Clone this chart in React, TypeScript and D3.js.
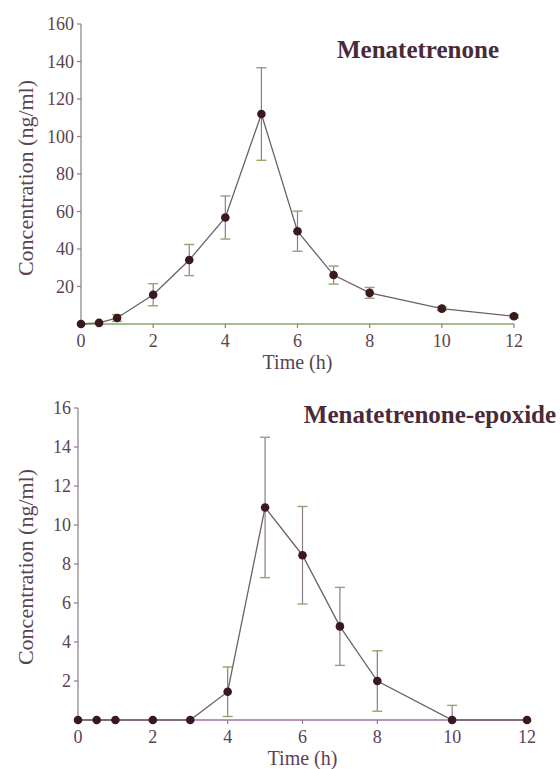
import React from "react";
import * as d3 from "d3";

const times = [0, 0.5, 1, 2, 3, 4, 5, 6, 7, 8, 10, 12];
const mk4Mean = [0, 0.6, 3.2, 15.6, 34.1, 56.8, 112, 49.5, 26.1, 16.6, 8.2, 4.1];
const mk4Sd = [0, 0, 1.8, 5.9, 8.3, 11.5, 24.7, 10.7, 4.8, 2.9, 1.0, 0.8];
const epoMean = [0, 0, 0, 0, 0, 1.45, 10.9, 8.45, 4.8, 2.0, 0, 0];
const epoSd = [0, 0, 0, 0, 0, 1.27, 3.6, 2.5, 2.0, 1.55, 0.75, 0];
const xTicks = [0, 2, 4, 6, 8, 10, 12];
const mk4YTicks = [20, 40, 60, 80, 100, 120, 140, 160];
const epoYTicks = [2, 4, 6, 8, 10, 12, 14, 16];
const mk4Title = "Menatetrenone";
const epoTitle = "Menatetrenone-epoxide";
const yLabel = "Concentration (ng/ml)";
const xLabel = "Time (h)";

const FONT = "'Liberation Serif', 'Times New Roman', serif";
const TEXT = "#5a4352";
const AXIS = "#8a7c8a";
const LINE = "#6e5f6c";
const MARK = "#3a1820";
const CAP = "#8fa866";

type PanelProps = {
  mean: number[];
  sd: number[];
  yMax: number;
  yTicks: number[];
  x0: number;
  x1: number;
  yTop: number;
  yBot: number;
  title: string;
  titleX: number;
  titleY: number;
  xAxisColor: string;
  yLabelY: number;
};

function Panel(p: PanelProps) {
  const x = d3.scaleLinear().domain([0, 12]).range([p.x0, p.x1]);
  const y = d3.scaleLinear().domain([0, p.yMax]).range([p.yBot, p.yTop]);
  const line = d3
    .line<number>()
    .x((_, i) => x(times[i]))
    .y((d) => y(d));
  return (
    <g>
      <line x1={p.x0} x2={p.x0} y1={p.yTop} y2={p.yBot} stroke={AXIS} strokeWidth={1.2} />
      {p.yTicks.map((t) => (
        <g key={"y" + t}>
          <line x1={p.x0 - 4} x2={p.x0} y1={y(t)} y2={y(t)} stroke={AXIS} strokeWidth={1.2} />
          <text
            x={p.x0 - 7}
            y={y(t)}
            dy="0.35em"
            textAnchor="end"
            fontFamily={FONT}
            fontSize={18}
            fill={TEXT}
          >
            {t}
          </text>
        </g>
      ))}
      <line x1={p.x0} x2={p.x1} y1={p.yBot} y2={p.yBot} stroke={p.xAxisColor} strokeWidth={1.4} />
      {xTicks.map((t) => (
        <g key={"x" + t}>
          <line x1={x(t)} x2={x(t)} y1={p.yBot} y2={p.yBot + 4} stroke={AXIS} strokeWidth={1.2} />
          <text
            x={x(t)}
            y={p.yBot + 23}
            textAnchor="middle"
            fontFamily={FONT}
            fontSize={18}
            fill={TEXT}
          >
            {t}
          </text>
        </g>
      ))}
      <text
        x={x(6)}
        y={p.yBot + 45}
        textAnchor="middle"
        fontFamily={FONT}
        fontSize={20}
        fill={TEXT}
      >
        {xLabel}
      </text>
      <text
        transform={`translate(25,${p.yLabelY}) rotate(-90)`}
        dy="0.35em"
        textAnchor="middle"
        fontFamily={FONT}
        fontSize={22}
        fill={TEXT}
      >
        {yLabel}
      </text>
      <text
        x={p.titleX}
        y={p.titleY}
        textAnchor="middle"
        fontFamily={FONT}
        fontWeight="bold"
        fontSize={25}
        fill="#4a2a38"
      >
        {p.title}
      </text>
      {p.mean.map((m, i) =>
        p.sd[i] > 0 ? (
          <g key={"e" + i}>
            <line
              x1={x(times[i])}
              x2={x(times[i])}
              y1={y(m + p.sd[i])}
              y2={y(Math.max(0, m - p.sd[i]))}
              stroke={AXIS}
              strokeWidth={1.2}
            />
            <line
              x1={x(times[i]) - 5}
              x2={x(times[i]) + 5}
              y1={y(m + p.sd[i])}
              y2={y(m + p.sd[i])}
              stroke={CAP}
              strokeWidth={1.4}
            />
            {m - p.sd[i] > 0 && (
              <line
                x1={x(times[i]) - 5}
                x2={x(times[i]) + 5}
                y1={y(m - p.sd[i])}
                y2={y(m - p.sd[i])}
                stroke={CAP}
                strokeWidth={1.4}
              />
            )}
          </g>
        ) : null
      )}
      <path d={line(p.mean) || ""} fill="none" stroke={LINE} strokeWidth={1.3} />
      {p.mean.map((m, i) => (
        <circle key={"c" + i} cx={x(times[i])} cy={y(m)} r={4.3} fill={MARK} />
      ))}
    </g>
  );
}

export default function App() {
  return (
    <svg
      width={560}
      height={769}
      style={{ position: "absolute", left: 0, top: 0, background: "#fff" }}
    >
      <rect width={560} height={769} fill="#fff" />
      <Panel
        mean={mk4Mean}
        sd={mk4Sd}
        yMax={160}
        yTicks={mk4YTicks}
        x0={81}
        x1={514}
        yTop={24}
        yBot={324}
        title={mk4Title}
        titleX={418}
        titleY={58}
        xAxisColor="#86a86a"
        yLabelY={178}
      />
      <Panel
        mean={epoMean}
        sd={epoSd}
        yMax={16}
        yTicks={epoYTicks}
        x0={78}
        x1={527}
        yTop={408}
        yBot={720}
        title={epoTitle}
        titleX={430}
        titleY={423}
        xAxisColor="#a070a0"
        yLabelY={567}
      />
    </svg>
  );
}
